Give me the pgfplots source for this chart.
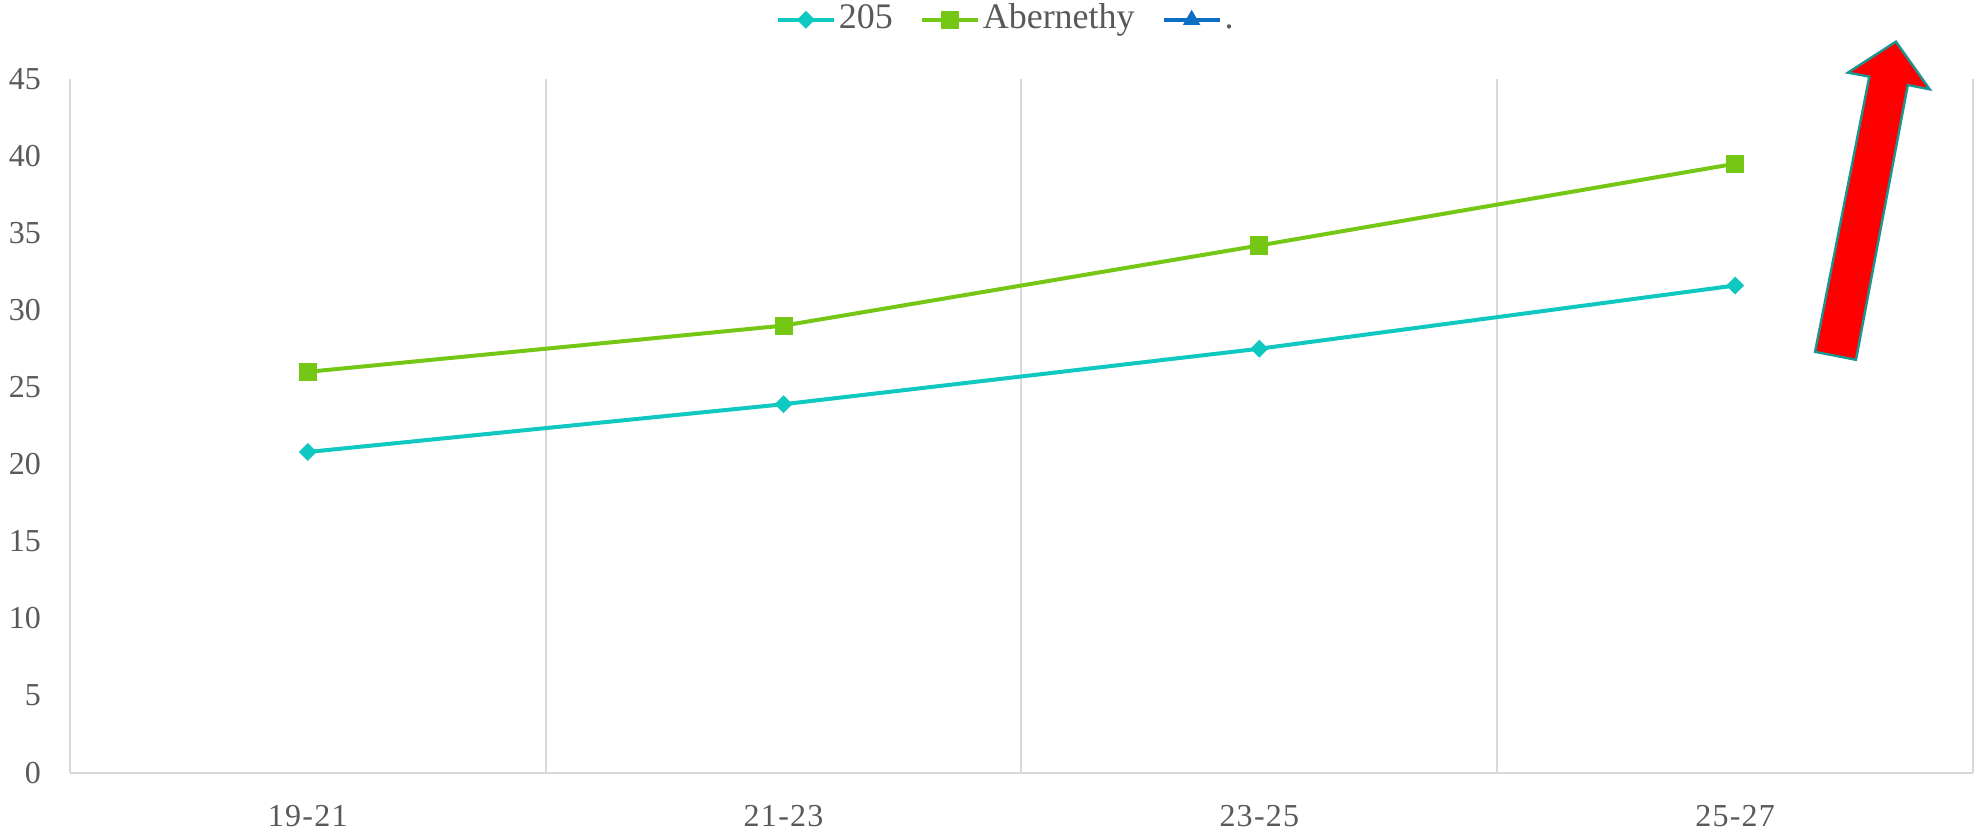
\documentclass[border=0pt]{standalone}
\usepackage{fontspec}
\setmainfont{Liberation Serif}
\usepackage{pgfplots}
\pgfplotsset{compat=1.18}
\definecolor{txt}{HTML}{595959}
\definecolor{gridc}{HTML}{D9D9D9}
\definecolor{cteal}{HTML}{0FC8C0}
\definecolor{cgreen}{HTML}{74C815}
\definecolor{cblue}{HTML}{0E6EC4}
\definecolor{arrowedge}{HTML}{1A9690}
\begin{document}
\begin{tikzpicture}
\begin{axis}[
  name=ax,
  scale only axis,
  width=952pt, height=347pt,
  xmin=-0.5, xmax=3.5, ymin=0, ymax=45,
  xtick={0,1,2,3},
  xticklabels={19-21,21-23,23-25,25-27},
  minor xtick={0.5,1.5,2.5,3.5},
  xminorgrids=true,
  minor grid style={gridc, line width=1pt},
  ytick={0,5,...,45},
  axis x line*=bottom, axis y line*=left,
  axis line style={gridc, line width=1pt, -},
  major tick length=0pt, minor tick length=0pt,
  /pgf/number format/assume math mode=true,
  tick label style={font=\fontsize{16}{18}\selectfont, text=txt},
  yticklabel style={xshift=-11pt},
  xticklabel style={anchor=base, inner sep=0pt, text depth=0pt, yshift=-27pt,
    font=\fontsize{16}{18}\selectfont\addfontfeature{LetterSpace=4}},
  clip=false,
  legend columns=3,
  legend style={draw=none, fill=none, at={(0.492,1.0)}, anchor=south, yshift=20pt,
    font=\fontsize{18}{20}\selectfont, text=txt,
    /tikz/every odd column/.append style={column sep=0pt},
    /tikz/every even column/.append style={column sep=12pt},
    nodes={inner xsep=1.5pt, inner ysep=1pt, text height=0.68em, text depth=0.2em}},
  legend image code/.code={
    \draw[#1, mark repeat=2, mark phase=2, yshift=2pt] plot coordinates {(0pt,0pt) (14pt,0pt) (28pt,0pt)};
  },
]
\addplot[color=cteal, line width=2pt, mark=square*, mark size=2.9pt, mark options={solid, rotate=45, fill=cteal, line width=0.5pt}]
  coordinates {(0,20.8) (1,23.9) (2,27.5) (3,31.6)};
\addlegendentry{205}
\addplot[color=cgreen, line width=2pt, mark=square*, mark size=4.3pt, mark options={solid, fill=cgreen, line width=0.5pt}]
  coordinates {(0,26.0) (1,29.0) (2,34.2) (3,39.5)};
\addlegendentry{Abernethy}
\addlegendimage{color=cblue, line width=2pt, mark=triangle*, mark size=4.5pt, mark options={solid, fill=cblue, line width=0.5pt}}
\addlegendentry{.}
\draw[fill=red, draw=arrowedge, line width=1.2pt, line join=miter]
  (axis cs:3.168,27.30) -- (axis cs:3.254,26.78) -- (axis cs:3.363,44.61) -- (axis cs:3.409,44.33)
  -- (axis cs:3.338,47.42) -- (axis cs:3.237,45.41) -- (axis cs:3.282,45.15) -- cycle;
\end{axis}
\path ([shift={(-35pt,-29.5pt)}]ax.south west) rectangle ([shift={(952pt,386.5pt)}]ax.south west);
\end{tikzpicture}
\end{document}
